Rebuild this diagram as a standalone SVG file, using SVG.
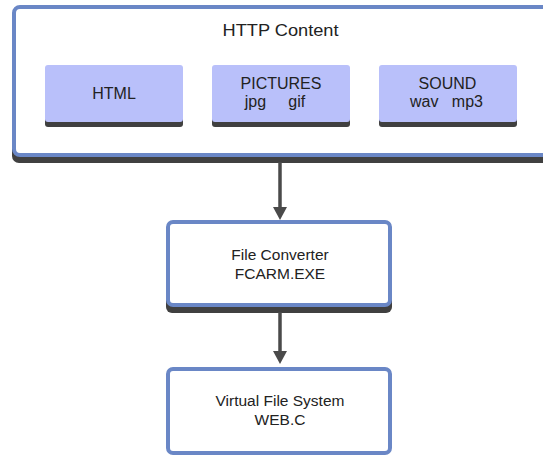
<svg xmlns="http://www.w3.org/2000/svg" width="543" height="455" viewBox="0 0 543 455">
<style>
text{font-family:"Liberation Sans",Arial,sans-serif;fill:#222;text-anchor:middle;font-size:16px;white-space:pre}
.frame{fill:#fff;stroke:#6a87c6;stroke-width:4}
.shadow{fill:#404040}
.item{fill:#b9c0fa}
.conn{stroke:#4a4a4a;stroke-width:3.5;fill:none}
.head{fill:#4a4a4a}
.sm{font-size:15.5px}
</style>
<rect width="543" height="455" fill="#fff"/>
<g id="http-content">
<rect class="shadow" x="12" y="11" width="540" height="152" rx="7"/>
<rect class="frame" x="14" y="7" width="536" height="148" rx="6"/>
<text x="280.5" y="35.5" textLength="116" lengthAdjust="spacingAndGlyphs">HTTP Content</text>
</g>
<g id="html">
<rect class="shadow" x="45" y="70" width="138" height="57" rx="3"/>
<rect class="item" x="45" y="65" width="138" height="57" rx="3"/>
<text x="114" y="98.5">HTML</text>
</g>
<g id="pictures">
<rect class="shadow" x="212" y="70" width="138" height="57" rx="3"/>
<rect class="item" x="212" y="65" width="138" height="57" rx="3"/>
<text x="281" y="89">PICTURES</text>
<text x="275" y="107">jpg     gif</text>
</g>
<g id="sound">
<rect class="shadow" x="379" y="70" width="138" height="57" rx="3"/>
<rect class="item" x="379" y="65" width="138" height="57" rx="3"/>
<text x="447.5" y="89">SOUND</text>
<text x="446.5" y="107">wav   mp3</text>
</g>
<g id="file-converter">
<rect class="shadow" x="166" y="225" width="226" height="88" rx="6"/>
<rect class="frame" x="168" y="222" width="222" height="83" rx="5"/>
<text class="sm" x="280" y="259.5">File Converter</text>
<text class="sm" x="280" y="278.5">FCARM.EXE</text>
</g>
<g id="virtual-file-system">
<rect class="frame" x="168" y="369" width="222" height="84" rx="5"/>
<text class="sm" x="280" y="406">Virtual File System</text>
<text class="sm" x="280" y="424.5">WEB.C</text>
</g>
<g id="connectors">
<line class="conn" x1="280" y1="162" x2="280" y2="208"/>
<polygon class="head" points="273,207 287,207 280,220"/>
<line class="conn" x1="280" y1="312" x2="280" y2="352"/>
<polygon class="head" points="273,351 287,351 280,364"/>
</g>
</svg>
